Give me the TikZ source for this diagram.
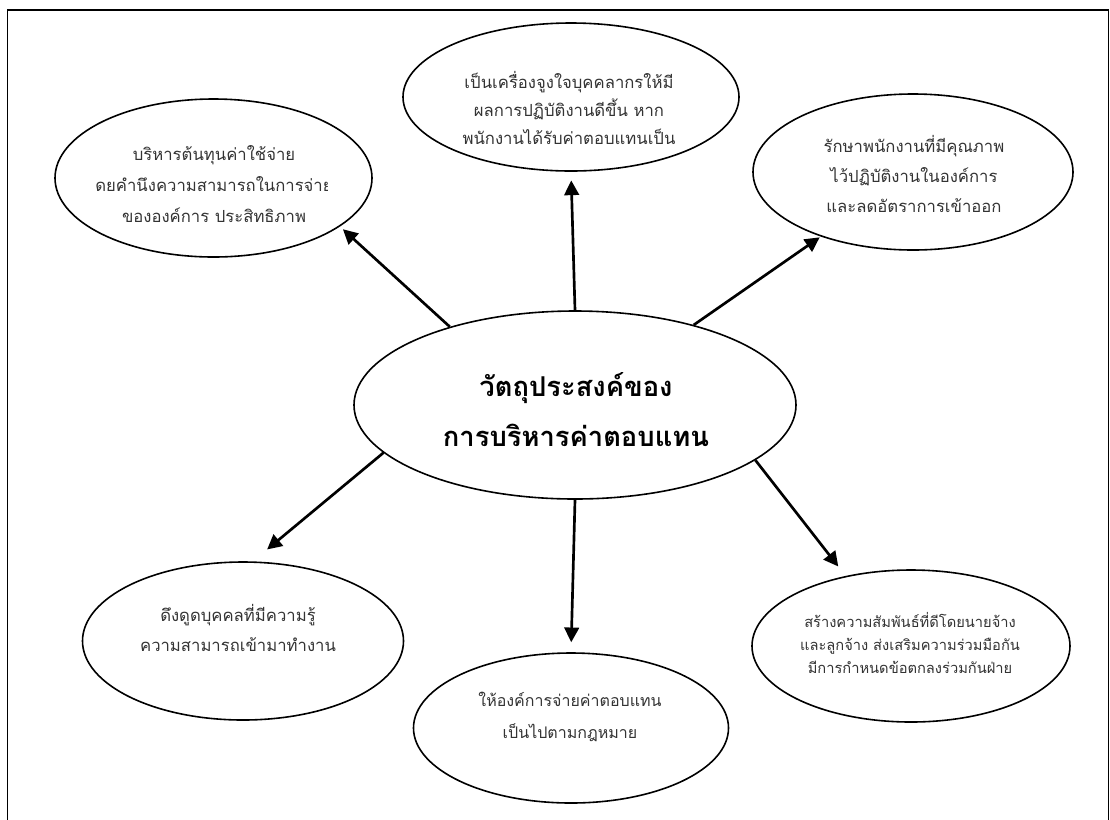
\documentclass[tikz,border=0pt]{standalone}
\usepackage{fontspec}
\usetikzlibrary{arrows.meta,shapes.geometric}
\newfontfamily\thaifont[Script=Thai]{Loma}
\begin{document}
\begin{tikzpicture}[x=0.75pt,y=-0.75pt,
  bubble/.style={draw=black,line width=1.2pt,ellipse,inner sep=0pt},
  txt/.style={align=center,inner sep=0pt,text=black!80},
  link/.style={draw=black,line width=2pt,-{Triangle[length=11pt,width=11pt]}}]
\useasboundingbox (0,0) rectangle (1110,819);
\fill[white] (0,0) rectangle (1110,819);
% outer frame, open at the bottom
\draw[line width=1.3pt] (7.5,830) -- (7.5,10) -- (1108.5,10) -- (1108.5,830);

% central topic
\node[bubble,minimum width=331.5pt,minimum height=141pt] (c) at (575,405) {};
\node[txt,font=\thaifont\bfseries\fontsize{20.5}{37.5}\selectfont,text=black] (ct) at (576,410)
  {วัตถุประสงค์ของ\\การบริหารค่าตอบแทน};

% surrounding objectives
\node[bubble,minimum width=237.75pt,minimum height=118.5pt] (tl) at (213.5,178) {};
\begin{scope}
  % the text box cuts the long middle line on its right
  \clip (0,0) rectangle (327,819);
  \node[txt,font=\thaifont\fontsize{12.5}{23}\selectfont] (tlt) at (214,184)
    {บริหารต้นทุนค่าใช้จ่าย\\ดยคำนึงความสามารถในการจ่าย\\ขององค์การ ประสิทธิภาพ};
\end{scope}

\node[bubble,minimum width=252pt,minimum height=111pt] (tp) at (571,97) {};
\node[txt,font=\thaifont\fontsize{12.5}{21}\selectfont] (tpt) at (569,108)
  {เป็นเครื่องจูงใจบุคคลากรให้มี\\ผลการปฏิบัติงานดีขึ้น หาก\\พนักงานได้รับค่าตอบแทนเป็น};

\node[bubble,minimum width=240pt,minimum height=117pt] (tr) at (913,172) {};
\node[txt,font=\thaifont\fontsize{12.5}{22.5}\selectfont] (trt) at (914,174)
  {รักษาพนักงานที่มีคุณภาพ\\ไว้ปฏิบัติงานในองค์การ\\และลดอัตราการเข้าออก};

\node[bubble,minimum width=240.75pt,minimum height=118.5pt] (bl) at (243,641) {};
\node[txt,font=\thaifont\fontsize{12.5}{23}\selectfont] (blt) at (238,628)
  {ดึงดูดบุคคลที่มีความรู้\\ความสามารถเข้ามาทำงาน};

\node[bubble,minimum width=236.25pt,minimum height=112.5pt] (bt) at (571,728) {};
\node[txt,font=\thaifont\fontsize{12}{23.5}\selectfont] (btt) at (570,717)
  {ให้องค์การจ่ายค่าตอบแทน\\เป็นไปตามกฎหมาย};

\node[bubble,minimum width=238.5pt,minimum height=114pt] (br) at (911,646) {};
\node[txt,font=\thaifont\fontsize{11}{17.5}\selectfont] (brt) at (910,643)
  {สร้างความสัมพันธ์ที่ดีโดยนายจ้าง\\และลูกจ้าง ส่งเสริมความร่วมมือกัน\\มีการกำหนดข้อตกลงร่วมกันฝ่าย};

% arrows from the central topic
\draw[link,shorten >=3pt] (c.148.5) -- (tl.-21);
\draw[link,shorten >=6.5pt] (c.90) -- (tp.270);
\draw[link,shorten >=1pt] (c.34) -- (tr.215.5);
\draw[link,shorten >=14pt] (c.194) -- (bl.83);
\draw[link,shorten >=7.5pt] (c.270) -- (bt.90);
\draw[link,shorten >=9pt] (c.-17.4) -- (br.133.7);
\end{tikzpicture}
\end{document}
